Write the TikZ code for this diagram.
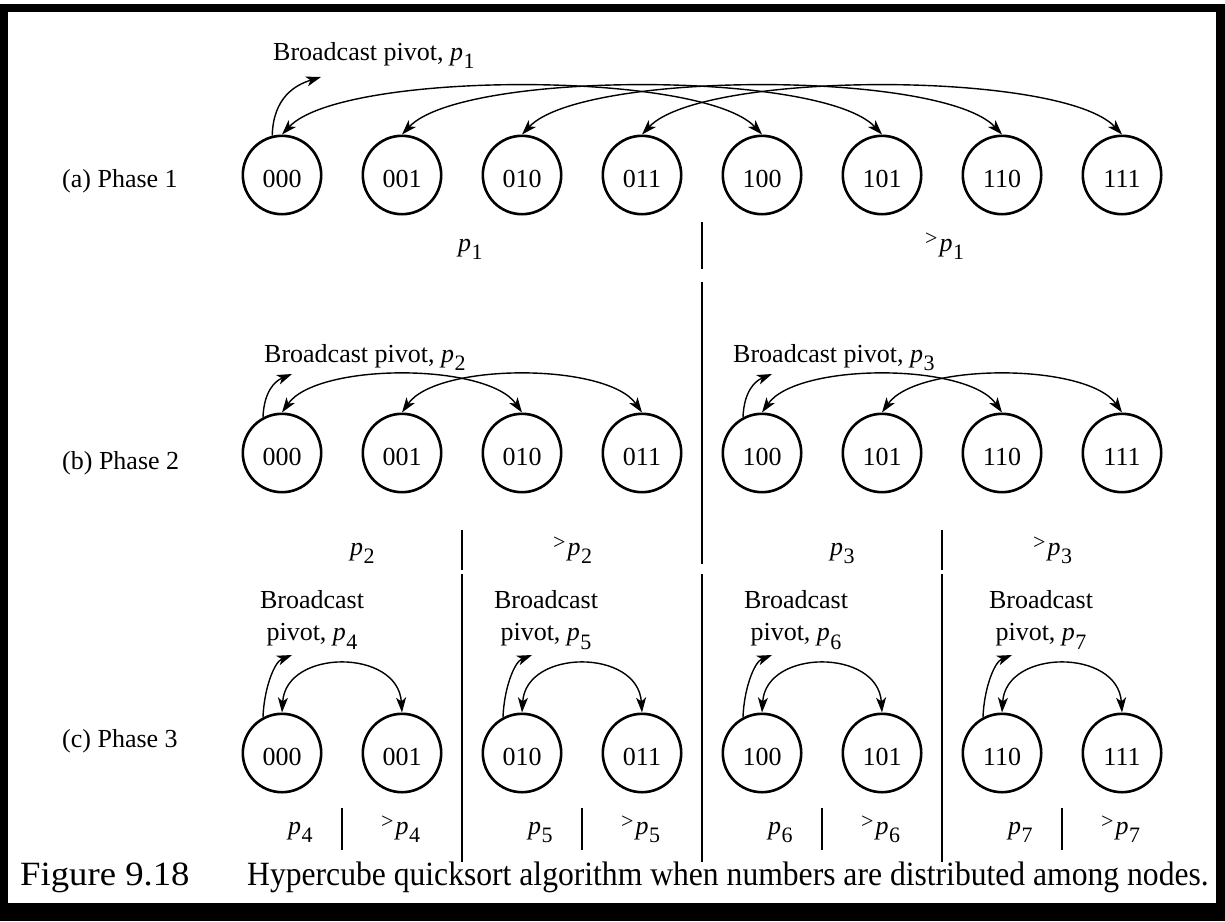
\documentclass[tikz,border=0pt]{standalone}
\usepackage{fontspec}
\setmainfont{Liberation Serif}
\usetikzlibrary{arrows.meta,calc}

% pivot symbol with lowered index, and the "greater than pivot" label
\newcommand{\pv}[1]{\textit{p}\kern0.5pt\raisebox{-0.33em}{\fontsize{22}{22}\selectfont #1}}
\newcommand{\gpv}[1]{\raisebox{0.2em}{\fontsize{22}{22}\selectfont >}\kern2pt\pv{#1}}

\tikzset{
  hnode/.style={circle, draw, line width=2.6pt, minimum size=78.4pt, inner sep=0pt,
                text height=24pt, text depth=0pt, font=\fontsize{26}{31}\selectfont},
  txt/.style={inner sep=0pt, font=\fontsize{26}{32}\selectfont},
  xchg/.style={line width=1.4pt, {Stealth[length=15pt,width=10pt,inset=4pt]}-{Stealth[length=15pt,width=10pt,inset=4pt]}},
  bcast/.style={line width=1.4pt, -{Stealth[length=15pt,width=10pt,inset=4pt]}},
  divider/.style={line width=2.4pt},
}

\begin{document}
\begin{tikzpicture}[x=1pt, y=-1pt]
\useasboundingbox (0,0) rectangle (1225,921);
% frame
\fill[black] (0,4) rectangle (1225,921);
\fill[white] (8,12) rectangle (1216,903);

% ---------- phase 1 ----------
\node[txt, anchor=base west] (la) at (62,187) {(a) Phase 1};
\foreach \n [count=\i from 0] in {000,001,010,011,100,101,110,111}
  \node[hnode] (a\n) at (282+120*\i,175) {\n};
\node[txt, anchor=base west] (ta) at (273,60) {Broadcast pivot, \pv{1}};
\coordinate (ta-tip) at (321,77);
\draw[bcast] (a000.104) .. controls +(1,-38) and +(-26,8) .. (ta-tip);
\foreach \u/\v in {000/100,001/101,010/110,011/111}
  \draw[xchg] (a\u.north) .. controls +(60,-64) and +(-60,-64) .. (a\v.north);
\node[txt, anchor=base west] (ale) at (458,251) {\pv{1}};
\node[txt, anchor=base west] (agt) at (925,251) {\gpv{1}};
\draw[divider] (702,222) -- (702,269);
\draw[divider] (702,282) -- (702,564);

% ---------- phase 2 ----------
\node[txt, anchor=base west] (lb) at (62,469) {(b) Phase 2};
\foreach \n [count=\i from 0] in {000,001,010,011,100,101,110,111}
  \node[hnode] (b\n) at (282+120*\i,453) {\n};
\node[txt, anchor=base west] (tb1) at (264,362) {Broadcast pivot, \pv{2}};
\node[txt, anchor=base west] (tb2) at (733,362) {Broadcast pivot, \pv{3}};
\coordinate (tb1-tip) at (292,374);
\coordinate (tb2-tip) at (772,374);
\draw[bcast] (b000.118) .. controls +(1,-26) and +(-17,7) .. (tb1-tip);
\draw[bcast] (b100.118) .. controls +(1,-26) and +(-17,7) .. (tb2-tip);
\foreach \u/\v in {000/010,001/011,100/110,101/111}
  \draw[xchg] (b\u.north) .. controls +(35,-50) and +(-35,-50) .. (b\v.north);
\node[txt, anchor=base west] (ble) at (350,555) {\pv{2}};
\node[txt, anchor=base west] (bgt) at (553,555) {\gpv{2}};
\node[txt, anchor=base west] (ble2) at (830,555) {\pv{3}};
\node[txt, anchor=base west] (bgt2) at (1033,555) {\gpv{3}};
\draw[divider] (462,530) -- (462,570);
\draw[divider] (942,530) -- (942,570);

% ---------- phase 3 ----------
\node[txt, anchor=base west] (lc) at (62,747) {(c) Phase 3};
\foreach \n [count=\i from 0] in {000,001,010,011,100,101,110,111}
  \node[hnode] (c\n) at (282+120*\i,753) {\n};
\foreach \n/\k/\cx in {000/4/312,010/5/546,100/6/796,110/7/1041}{
  \node[txt, align=center] (tc\n) at (\cx,620) {Broadcast\\pivot, \pv{\k}};
  \coordinate (tc\n-tip) at ($(c\n)+(10,-98)$);
}
\foreach \n in {000,010,100,110}
  \draw[bcast] (c\n.118) .. controls +(1,-28) and +(-18,7) .. (tc\n-tip);
\foreach \u/\v in {000/001,010/011,100/101,110/111}
  \draw[xchg] (c\u.north) .. controls +(4,-64) and +(-4,-64) .. (c\v.north);
\foreach \k/\x in {4/288,5/528,6/768,7/1008}{
  \node[txt, anchor=base west] (cle\k) at (\x,834) {\pv{\k}};
  \node[txt, anchor=base west] (cgt\k) at (\x+93,834) {\gpv{\k}};
  \draw[divider] (\x+54,808) -- (\x+54,850);
}
\foreach \x in {462,702,942}
  \draw[divider] (\x,574) -- (\x,862);

% ---------- caption ----------
\node[inner sep=0pt, anchor=base west, font=\fontsize{34}{38}\selectfont] (capno) at (20,885)
  {\scalebox{1.08}[1]{Figure 9.18}};
\node[inner sep=0pt, anchor=base west, font=\fontsize{34}{38}\selectfont] (cap) at (247,885)
  {\scalebox{0.93}[1]{Hypercube quicksort algorithm when numbers are distributed among nodes.}};
\end{tikzpicture}
\end{document}
